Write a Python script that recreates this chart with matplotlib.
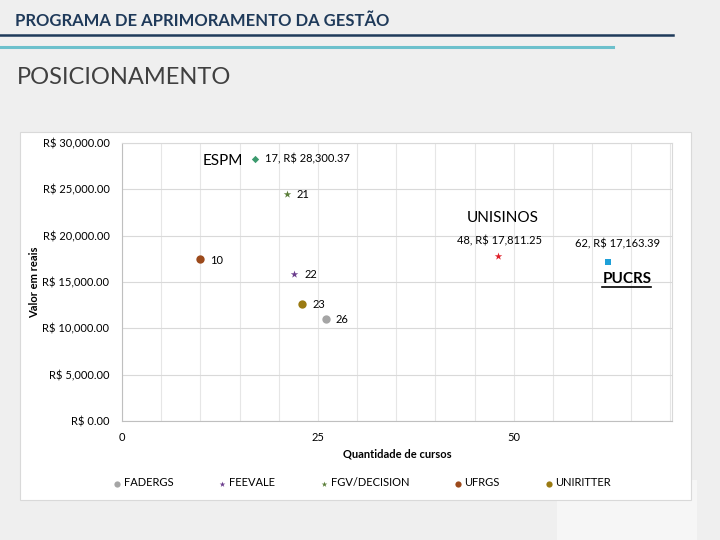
import matplotlib
matplotlib.use('Agg')
import matplotlib.pyplot as plt
from matplotlib.patches import Rectangle
from matplotlib.lines import Line2D
from matplotlib.ticker import FuncFormatter, MultipleLocator

plt.rcParams['font.family'] = ['Lato', 'DejaVu Sans']

# legend series
legend_names = ['FADERGS', 'FEEVALE', 'FGV/DECISION', 'UFRGS', 'UNIRITTER']
legend_cursos = [26, 22, 21, 10, 23]
legend_valores = [11050, 15900, 24550, 17480, 12650]
legend_colors = ['#a5a5a5', '#6b3d8d', '#5b7f3a', '#9c4a1b', '#9a7a12']
legend_markers = ['o', '*', '*', 'o', 'o']

# annotated schools (not in the legend)
named_names = ['ESPM', 'UNISINOS', 'PUCRS']
named_cursos = [17, 48, 62]
named_valores = [28300.37, 17811.25, 17163.39]
named_colors = ['#3c9a6e', '#e0202a', '#1ea0d8']
named_markers = ['D', '*', 's']

fig = plt.figure(figsize=(7.2, 5.4), dpi=100)
fig.patch.set_facecolor('#efefef')

# slide header
fig.text(15 / 720, 1 - 21 / 540, 'PROGRAMA DE APRIMORAMENTO DA GESTÃO', fontsize=12,
         fontweight='bold', color='#1f3a5a', va='center', ha='left')
fig.add_artist(Line2D([0, 673 / 720], [1 - 35 / 540] * 2, color='#1f3a5a', lw=1.8))
fig.add_artist(Line2D([0, 613 / 720], [1 - 47 / 540] * 2, color='#6cc0cc', lw=2.2))
fig.text(17 / 720, 1 - 78 / 540, 'POSICIONAMENTO', fontsize=17, fontweight='normal',
         color='#404040', va='center', ha='left')

# white chart box
fig.patches.append(Rectangle((557 / 720, 0), 140 / 720, 60 / 540, transform=fig.transFigure,
                             facecolor='#f6f6f6', edgecolor='none', zorder=-2))
fig.patches.append(Rectangle((20 / 720, 40 / 540), 671 / 720, 368 / 540, transform=fig.transFigure,
                             facecolor='white', edgecolor='#d9d9d9', lw=0.8, zorder=-1))

ax = fig.add_axes([122 / 720, 119 / 540, 550 / 720, 278 / 540])
ax.set_facecolor('white')

for name, x, y, c, m in zip(legend_names, legend_cursos, legend_valores, legend_colors, legend_markers):
    size = 36 if m == 'o' else 32
    ax.scatter([x], [y], s=size, color=c, marker=m, label=name, zorder=3, linewidths=0)
    ax.annotate(str(x), (x, y), xytext=(10, -1), textcoords='offset pixels',
                fontsize=8, va='center', ha='left')

for name, x, y, c, m in zip(named_names, named_cursos, named_valores, named_colors, named_markers):
    size = {'D': 14, '*': 32, 's': 20}[m]
    ax.scatter([x], [y], s=size, color=c, marker=m, zorder=3, linewidths=0)

# ESPM labels
ax.annotate('%d, R$ %s' % (named_cursos[0], format(named_valores[0], ',.2f')),
            (named_cursos[0], named_valores[0]), xytext=(10, 0), textcoords='offset pixels',
            fontsize=8, va='center', ha='left')
ax.annotate(named_names[0], (named_cursos[0], named_valores[0]), xytext=(-32, -2),
            textcoords='offset pixels', fontsize=11, va='center', ha='center')
# UNISINOS labels
ax.annotate('%d, R$ %s' % (named_cursos[1], format(named_valores[1], ',.2f')),
            (named_cursos[1], named_valores[1]), xytext=(1, 15), textcoords='offset pixels',
            fontsize=8, va='center', ha='center')
ax.annotate(named_names[1], (named_cursos[1], named_valores[1]), xytext=(5, 38),
            textcoords='offset pixels', fontsize=11, va='center', ha='center')
# PUCRS labels
ax.annotate('%d, R$ %s' % (named_cursos[2], format(named_valores[2], ',.2f')),
            (named_cursos[2], named_valores[2]), xytext=(10, 18), textcoords='offset pixels',
            fontsize=8, va='center', ha='center')
pucrs = ax.annotate(named_names[2], (named_cursos[2], named_valores[2]), xytext=(19, -17),
                    textcoords='offset pixels', fontsize=11, fontweight='bold',
                    va='center', ha='center')

ax.set_xlim(0, 70.2)
ax.set_ylim(0, 30000)
ax.xaxis.set_major_locator(MultipleLocator(25))
ax.xaxis.set_minor_locator(MultipleLocator(5))
ax.yaxis.set_major_locator(MultipleLocator(5000))
ax.yaxis.set_major_formatter(FuncFormatter(lambda v, p: 'R$ {:,.2f}'.format(v)))
ax.grid(True, which='major', axis='y', color='#d9d9d9', lw=0.8)
ax.grid(True, which='both', axis='x', color='#e6e6e6', lw=0.8)
ax.set_axisbelow(True)
ax.tick_params(which='both', length=0, labelsize=8, pad=9)
ax.tick_params(axis='x', pad=8)
for side in ['left', 'bottom']:
    ax.spines[side].set_color('#bfbfbf')
for side in ['top', 'right']:
    ax.spines[side].set_color('#d9d9d9')
ax.set_xlabel('Quantidade de cursos', fontsize=8, fontweight='bold', labelpad=4)
ax.set_ylabel('Valor em reais', fontsize=8, fontweight='bold', labelpad=2)
ax.yaxis.set_label_coords(-82 / 550, 0.5)

fig.legend(loc='center left', bbox_to_anchor=(106 / 720, 1 - 483 / 540), ncol=5,
           frameon=False, fontsize=8, handletextpad=0.1, columnspacing=3.9,
           markerscale=0.75, borderpad=0, handlelength=1.0)

# underline PUCRS
fig.canvas.draw()
bb = pucrs.get_window_extent()
fig.add_artist(Line2D([bb.x0 / 720, bb.x1 / 720], [(bb.y0 - 1) / 540] * 2,
                      color='black', lw=1.2))

fig.savefig('out.png', dpi=100, facecolor=fig.get_facecolor())
